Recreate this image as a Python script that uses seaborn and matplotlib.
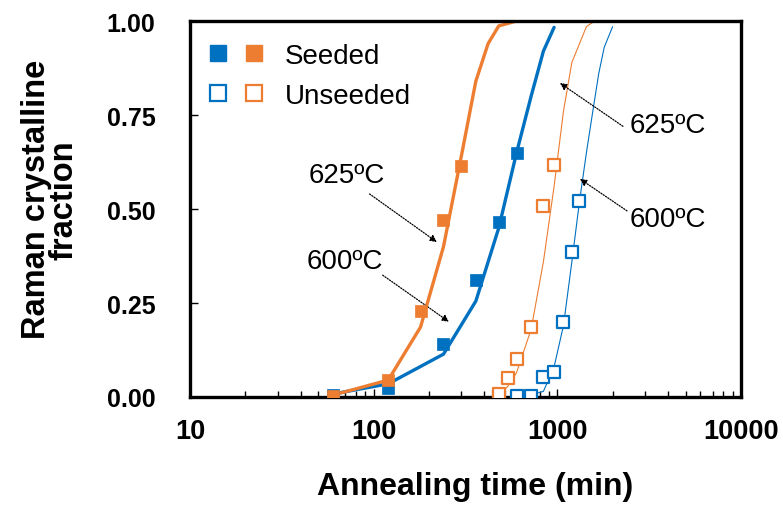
import numpy as np
import pandas as pd
import matplotlib
matplotlib.use("Agg")
import matplotlib.pyplot as plt
import seaborn as sns
from matplotlib.lines import Line2D
from matplotlib.legend_handler import HandlerTuple
from matplotlib.ticker import LogLocator, NullFormatter, FixedLocator

sns.set_style("white")
plt.rcParams['font.family'] = ['Liberation Sans', 'DejaVu Sans']
plt.rcParams['text.color'] = 'black'
plt.rcParams['axes.labelcolor'] = 'black'
plt.rcParams['xtick.color'] = 'black'
plt.rcParams['ytick.color'] = 'black'

BLUE = "#0070C0"
ORANGE = "#ED7D31"

# measured points
seeded_625_t = [60, 120, 180, 240, 300]
seeded_625_f = [0.003, 0.045, 0.23, 0.47, 0.615]
seeded_600_t = [60, 120, 240, 360, 480, 600]
seeded_600_f = [0.005, 0.025, 0.14, 0.31, 0.465, 0.65]
unseeded_625_t = [480, 540, 600, 720, 840, 960]
unseeded_625_f = [0.008, 0.05, 0.10, 0.185, 0.508, 0.617]
unseeded_600_t = [480, 600, 720, 840, 960, 1080, 1200, 1320]
unseeded_600_f = [0.0, 0.003, 0.003, 0.053, 0.066, 0.20, 0.386, 0.52]

# fitted curves
fit_s625_t = [60, 120, 180, 240, 300, 360, 420, 480, 600]
fit_s625_f = [0.005, 0.045, 0.186, 0.40, 0.64, 0.84, 0.94, 0.987, 1.0]
fit_s600_t = [60, 120, 240, 360, 480, 600, 720, 840, 960]
fit_s600_f = [0.008, 0.035, 0.114, 0.255, 0.45, 0.65, 0.80, 0.92, 0.983]
fit_u625_t = [480, 540, 600, 720, 840, 960, 1080, 1200, 1440, 1600]
fit_u625_f = [0.0, 0.03, 0.065, 0.18, 0.36, 0.56, 0.76, 0.89, 0.985, 1.0]
fit_u600_t = [480, 600, 720, 840, 960, 1080, 1200, 1320, 1440, 1560, 1680, 1800, 2000]
fit_u600_f = [0.0, 0.002, 0.006, 0.015, 0.08, 0.19, 0.36, 0.52, 0.65, 0.76, 0.86, 0.93, 0.985]

x_ticks = [10, 100, 1000, 10000]
x_ticklabels = ["10", "100", "1000", "10000"]
y_ticks = [0.0, 0.25, 0.5, 0.75, 1.0]
y_ticklabels = ["0.00", "0.25", "0.50", "0.75", "1.00"]

fig = plt.figure(figsize=(7.83, 5.06), dpi=100)
ax = fig.add_axes([190/783, 1-398/506, (741-190)/783, (398-22)/506])

# fit lines
sns.lineplot(x=fit_u625_t, y=fit_u625_f, ax=ax, color=ORANGE, lw=0.8, zorder=2, estimator=None, sort=False)
sns.lineplot(x=fit_u600_t, y=fit_u600_f, ax=ax, color=BLUE, lw=0.8, zorder=2, estimator=None, sort=False)
sns.lineplot(x=fit_s600_t, y=fit_s600_f, ax=ax, color=BLUE, lw=2.4, zorder=2, estimator=None, sort=False)
sns.lineplot(x=fit_s625_t, y=fit_s625_f, ax=ax, color=ORANGE, lw=2.4, zorder=2, estimator=None, sort=False)

ms = 70
sns.scatterplot(x=seeded_600_t, y=seeded_600_f, ax=ax, marker='s', s=ms, color=BLUE, edgecolor=BLUE, linewidth=0.5, zorder=4)
sns.scatterplot(x=seeded_625_t, y=seeded_625_f, ax=ax, marker='s', s=ms, color=ORANGE, edgecolor=ORANGE, linewidth=0.5, zorder=4)
sns.scatterplot(x=unseeded_600_t, y=unseeded_600_f, ax=ax, marker='s', s=ms, facecolor='white', edgecolor=BLUE, linewidth=1.6, zorder=4)
sns.scatterplot(x=unseeded_625_t, y=unseeded_625_f, ax=ax, marker='s', s=ms, facecolor='white', edgecolor=ORANGE, linewidth=1.6, zorder=4)

ax.set_xscale('log')
ax.set_xlim(10, 10000)
ax.set_ylim(0, 1.0)
ax.xaxis.set_major_locator(FixedLocator(x_ticks))
ax.set_xticklabels(x_ticklabels)
ax.xaxis.set_minor_locator(LogLocator(base=10, subs=np.arange(2, 10)))
ax.xaxis.set_minor_formatter(NullFormatter())
ax.set_yticks(y_ticks)
ax.set_yticklabels(y_ticklabels)

for sp in ax.spines.values():
    sp.set_visible(True)
    sp.set_color('black')
    sp.set_linewidth(2.4)

ax.tick_params(axis='both', which='major', direction='in', length=6, width=1, color='black',
               labelsize=18, labelcolor='black')
ax.tick_params(axis='x', which='major', labelsize=19.5)
ax.tick_params(axis='x', which='minor', direction='in', length=4, width=1, color='black', bottom=True)
ax.tick_params(axis='x', which='major', pad=15, bottom=True, top=False)
ax.tick_params(axis='y', which='major', pad=25, left=True, right=False)
for lab in ax.get_xticklabels() + ax.get_yticklabels():
    lab.set_fontweight('bold')

ax.set_xlabel("Annealing time (min)", fontsize=23, fontweight='bold')
ax.xaxis.set_label_coords(0.517, -0.198)
ax.set_ylabel("Raman crystalline\nfraction", fontsize=23.5, fontweight='bold', linespacing=0.85)
ax.yaxis.set_label_coords(-0.2, 0.527)

# annotations
arrow_kw = dict(arrowstyle='-|>', color='black', lw=0.9, linestyle=(0, (1, 1.2)), mutation_scale=10,
                shrinkA=0, shrinkB=0)
ax.annotate('', xy=(221, 0.412), xytext=(95, 0.54), arrowprops=arrow_kw)
ax.annotate('', xy=(257, 0.20), xytext=(112, 0.324), arrowprops=arrow_kw)
ax.annotate('', xy=(1033, 0.835), xytext=(2276, 0.72), arrowprops=arrow_kw)
ax.annotate('', xy=(1328, 0.58), xytext=(2395, 0.495), arrowprops=arrow_kw)
ax.text(71.6, 0.59, "625ºC", fontsize=20, ha='center', va='center')
ax.text(69.8, 0.362, "600ºC", fontsize=20, ha='center', va='center')
ax.text(4000, 0.723, "625ºC", fontsize=20, ha='center', va='center')
ax.text(4000, 0.473, "600ºC", fontsize=20, ha='center', va='center')

# legend
h_fb = Line2D([], [], ls='none', marker='s', ms=12, mfc=BLUE, mec=BLUE)
h_fo = Line2D([], [], ls='none', marker='s', ms=12, mfc=ORANGE, mec=ORANGE)
h_ub = Line2D([], [], ls='none', marker='s', ms=12, mfc='white', mec=BLUE, mew=1.6)
h_uo = Line2D([], [], ls='none', marker='s', ms=12, mfc='white', mec=ORANGE, mew=1.6)
ax.legend([(h_fb, h_fo), (h_ub, h_uo)], ["Seeded", "Unseeded"],
          handler_map={tuple: HandlerTuple(ndivide=None, pad=0.43)},
          loc='upper left', bbox_to_anchor=(0.0, 0.984), frameon=False, fontsize=20,
          handlelength=2.16, handletextpad=0.68, labelspacing=0.5,
          borderaxespad=0.25, borderpad=0.33)

fig.savefig("out.png", dpi=100)
